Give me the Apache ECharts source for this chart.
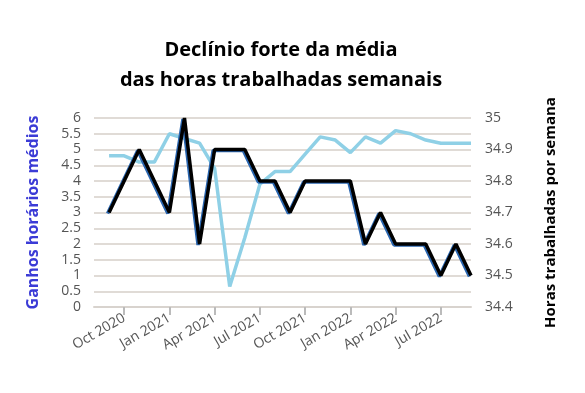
<!DOCTYPE html>
<html><head><meta charset="utf-8">
<script src="https://cdn.jsdelivr.net/npm/echarts@6/dist/echarts.min.js"></script>
<style>html,body{margin:0;padding:0;background:#fff}#c{width:585px;height:393px}</style>
</head><body><div id="c"></div>
<script>
const months = ["Aug 2020","Sep 2020","Oct 2020","Nov 2020","Dec 2020","Jan 2021","Feb 2021","Mar 2021","Apr 2021","May 2021","Jun 2021","Jul 2021","Aug 2021","Sep 2021","Oct 2021","Nov 2021","Dec 2021","Jan 2022","Feb 2022","Mar 2022","Apr 2022","May 2022","Jun 2022","Jul 2022","Aug 2022","Sep 2022"];
const ganhos = [null,4.8,4.8,4.6,4.6,5.5,5.35,5.2,4.4,0.65,2.2,3.9,4.3,4.3,4.85,5.4,5.3,4.9,5.4,5.2,5.6,5.5,5.3,5.2,5.2,5.2];
const horas = [null,34.7,34.8,34.9,34.8,34.7,35.0,34.6,34.9,34.9,34.9,34.8,34.8,34.7,34.8,34.8,34.8,34.8,34.6,34.7,34.6,34.6,34.6,34.5,34.6,34.5];
const leftTicks = {min:0,max:6,interval:0.5};
const rightTicks = {min:34.4,max:35,interval:0.1};
const showLabel = (v)=>/^(Jan|Apr|Jul|Oct)/.test(v);

const chart = echarts.init(document.getElementById('c'));
chart.setOption({
  animation:false,
  title:{text:'Declínio forte da média\ndas horas trabalhadas semanais',left:276,textAlign:'center',top:30,
    textStyle:{fontFamily:'Open Sans',fontWeight:'bold',fontSize:20,color:'#000',lineHeight:30}},
  grid:{left:94,right:114,top:118,bottom:86},
  xAxis:{type:'category',data:months,boundaryGap:false,
    axisLine:{show:true,lineStyle:{color:'#d8d3ce',width:2}},
    axisTick:{show:true,alignWithLabel:true,interval:(i,v)=>showLabel(v),length:8,lineStyle:{color:'#bbb',width:2}},
    axisLabel:{interval:(i,v)=>showLabel(v),rotate:30,color:'#555',fontFamily:'Open Sans',fontSize:14,margin:10}},
  yAxis:[
    {type:'value',min:leftTicks.min,max:leftTicks.max,interval:leftTicks.interval,
     name:'Ganhos horários médios',nameLocation:'middle',nameGap:53,nameRotate:90,
     nameTextStyle:{color:'#3b3bd6',fontWeight:'bold',fontSize:16,fontFamily:'Open Sans'},
     axisLine:{show:false},axisTick:{show:false},
     axisLabel:{color:'#555',fontSize:14,fontFamily:'Open Sans',margin:13,formatter:v=>String(v)},
     splitLine:{lineStyle:{color:'#e0dbd6',width:2}}},
    {type:'value',min:rightTicks.min,max:rightTicks.max,interval:rightTicks.interval,position:'right',
     name:'Horas trabalhadas por semana',nameLocation:'middle',nameGap:72,nameRotate:90,
     nameTextStyle:{color:'#000',fontWeight:'bold',fontSize:15,fontFamily:'Open Sans'},
     axisLine:{show:false},axisTick:{show:false},splitLine:{show:false},
     axisLabel:{color:'#555',fontSize:14,fontFamily:'Open Sans',margin:14,formatter:v=>v.toFixed(1).replace(/\.0$/,'')}}
  ],
  series:[
    {type:'line',yAxisIndex:0,data:ganhos,symbol:'none',lineStyle:{color:'#8fd0e6',width:3.5}},
    {type:'line',yAxisIndex:1,data:horas,symbol:'none',
     lineStyle:{color:'#000',width:3.5,shadowColor:'#2a66b0',shadowOffsetX:-1.5,shadowOffsetY:1,shadowBlur:0}}
  ]
});
</script></body></html>
